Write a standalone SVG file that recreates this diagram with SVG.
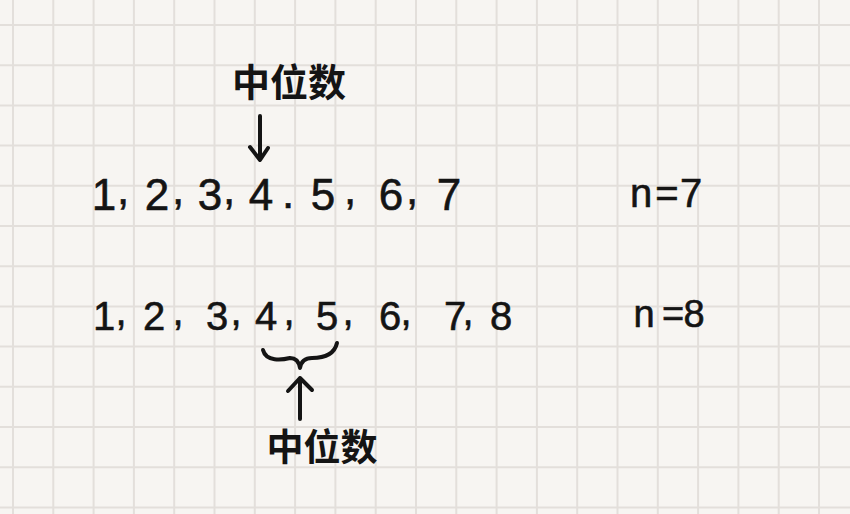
<svg xmlns="http://www.w3.org/2000/svg" width="850" height="514" viewBox="0 0 850 514">
<style>
.grid{stroke:#e3dfdb;stroke-width:2;fill:none}
.num{font-family:"Liberation Sans",Arial,sans-serif;fill:#141414;stroke:#141414;stroke-width:0.6;text-anchor:middle}
.cm{font-size:38px}
.cjk{font-family:"Noto Sans CJK SC",sans-serif;font-weight:700;fill:#141414;text-anchor:middle}
.ink{stroke:#141414;stroke-width:4;fill:none;stroke-linecap:round;stroke-linejoin:round}
</style>
<rect width="850" height="514" fill="#f7f5f2"/>
<g id="grid">
<path class="grid" d="M13 0V514M53.3 0V514M93.6 0V514M133.9 0V514M174.2 0V514M214.5 0V514M254.8 0V514M295.1 0V514M335.4 0V514M375.7 0V514M416 0V514M456.3 0V514M496.6 0V514M536.9 0V514M577.2 0V514M617.5 0V514M657.8 0V514M698.1 0V514M738.4 0V514M778.7 0V514M819 0V514"/>
<path class="grid" d="M0 25H850M0 65.2H850M0 105.4H850M0 145.6H850M0 185.8H850M0 226H850M0 266.2H850M0 306.4H850M0 346.6H850M0 386.8H850M0 427H850M0 467.2H850M0 507.4H850"/>
</g>
<g id="label-top"><text class="cjk" x="289" y="96" font-size="38">中位数</text></g>
<g id="row-7"><text class="num" font-size="44" x="104 123 157 178 210 229 261 288 323 350 391 412 449" y="210 204 210 204 210 204 210 208 210 204 210 204 210">1,2,3,4.5,6,7</text></g>
<g id="n7"><text class="num" font-size="40" x="641 667 691" y="207">n=7</text></g>
<g id="row-8"><text class="num" font-size="40" x="104 121 154 178 217 236 266 289 327 348 390 406 455 468 501" y="330 325 330 325 330 325 330 325 330 325 330 325 330 325 330">1,2,3,4,5,6,7,8</text></g>
<g id="n8"><text class="num" font-size="38" x="644 673 694" y="327">n=8</text></g>
<g id="label-bottom"><text class="cjk" x="322" y="461" font-size="37">中位数</text></g>
<g id="connectors">
<path class="ink" d="M260 116V159M250 147L260 160L268 148"/>
<path class="ink" d="M263 350C266 362 282 360 290 358C296 358 299 362 300 368C301 362 305 358 312 358C322 358 334 356 337 343"/>
<path class="ink" d="M300 419V378M288 391L300 378L312 390"/>
</g>
</svg>
